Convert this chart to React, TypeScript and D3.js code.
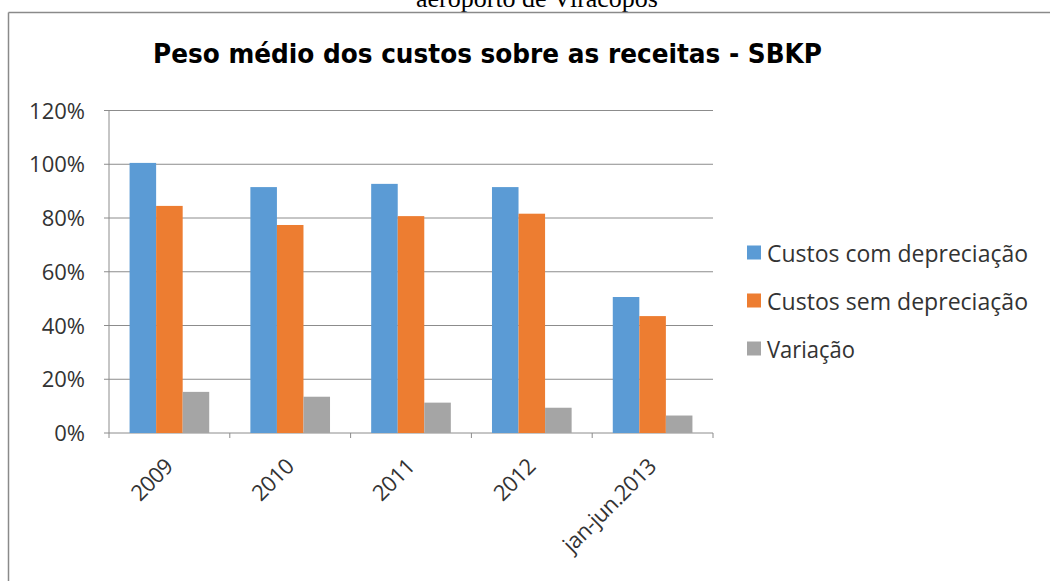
import React from "react";
import * as d3 from "d3";

const categories = ["2009", "2010", "2011", "2012", "jan-jun.2013"];
const seriesNames = ["Custos com depreciação", "Custos sem depreciação", "Variação"];
const comDepreciacao = [1.005, 0.915, 0.927, 0.915, 0.506];
const semDepreciacao = [0.845, 0.774, 0.807, 0.816, 0.435];
const variacao = [0.153, 0.135, 0.113, 0.094, 0.065];
const yTicks = [0, 0.2, 0.4, 0.6, 0.8, 1.0, 1.2];
const colors = ["#5B9BD5", "#ED7D31", "#A5A5A5"];

const W = 1050;
const H = 581;
const plotLeft = 109;
const plotRight = 713;
const plotTop = 110.5;
const plotBottom = 433;

export default function App() {
  const series = [comDepreciacao, semDepreciacao, variacao];
  const x = d3.scaleBand<string>().domain(categories).range([plotLeft, plotRight]).paddingInner(0).paddingOuter(0);
  const gapRatio = 1.55;
  const barW = x.bandwidth() / (3 + gapRatio);
  const y = d3.scaleLinear().domain([0, 1.2]).range([plotBottom, plotTop]);
  const fmt = d3.format(".0%");
  const font = "'Open Sans', sans-serif";

  return (
    <svg width={W} height={H} style={{ position: "absolute", left: 0, top: 0, background: "#fff" }}>
      <text x={537} y={7} textAnchor="middle" fontFamily="'Liberation Serif', 'Times New Roman', serif" fontSize={26} fill="#000">
        aeroporto de Viracopos
      </text>
      <line x1={8.5} y1={12.5} x2={W} y2={12.5} stroke="#8a8a8a" strokeWidth={1.5} />
      <line x1={8.5} y1={12.5} x2={8.5} y2={H} stroke="#8a8a8a" strokeWidth={1.5} />
      <text x={153} y={63} textAnchor="start" fontFamily="'DejaVu Sans Condensed', 'DejaVu Sans', sans-serif" fontStretch="condensed" fontWeight="bold" fontSize={26} fill="#000" textLength={669} lengthAdjust="spacingAndGlyphs">
        Peso médio dos custos sobre as receitas - SBKP
      </text>
      {yTicks.map((t) => (
        <g key={t}>
          <line x1={plotLeft - 5} x2={plotRight} y1={y(t)} y2={y(t)} stroke="#8c8c8c" strokeWidth={1} />
          <text x={85} y={y(t) + 8} textAnchor="end" fontFamily={font} fontSize={22} fill="#333">
            {fmt(t)}
          </text>
        </g>
      ))}
      <line x1={plotLeft} x2={plotLeft} y1={plotTop} y2={plotBottom + 5} stroke="#8c8c8c" strokeWidth={1} />
      {categories.map((c) => (
        <line key={"tk" + c} x1={x(c)! + x.bandwidth()} x2={x(c)! + x.bandwidth()} y1={plotBottom} y2={plotBottom + 5} stroke="#8c8c8c" strokeWidth={1} />
      ))}
      {series.map((s, si) =>
        s.map((v, i) => {
          const bx = x(categories[i])! + (gapRatio / 2) * barW + si * barW;
          return <rect key={si + "-" + i} x={bx} y={y(v)} width={barW} height={plotBottom - y(v)} fill={colors[si]} />;
        })
      )}
      {categories.map((c) => {
        const cx = x(c)! + x.bandwidth() / 2 + 5;
        const cy = 468;
        return (
          <text key={"lb" + c} transform={`translate(${cx},${cy}) rotate(-45)`} textAnchor="end" fontFamily={font} fontSize={22} fill="#333" letterSpacing={-0.5}>
            {c}
          </text>
        );
      })}
      {seriesNames.map((n, i) => {
        const ly = 252.5 + i * 48;
        const w = [261, 261, 88][i];
        return (
          <g key={n}>
            <rect x={747} y={ly - 7} width={14} height={14} fill={colors[i]} />
            <text x={767} y={ly + 9} fontFamily={font} fontSize={24} fill="#333" textLength={w} lengthAdjust="spacingAndGlyphs">
              {n}
            </text>
          </g>
        );
      })}
    </svg>
  );
}
